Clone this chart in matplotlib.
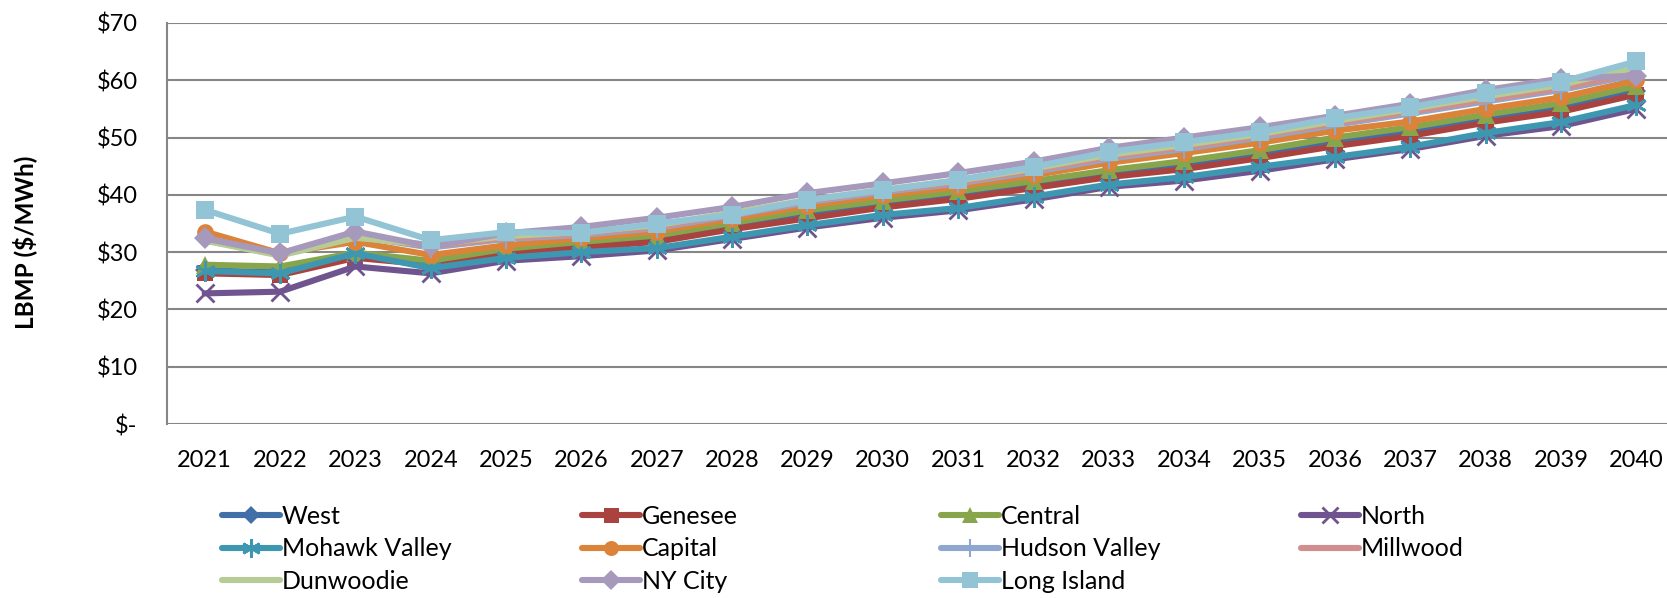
import matplotlib
matplotlib.use("Agg")
import matplotlib.pyplot as plt

years = [str(y) for y in range(2021, 2041)]

west = [26.8, 26.5, 29.5, 28.2, 30.0, 31.3, 32.3, 34.5, 36.5, 38.3, 39.8, 41.8, 43.7, 45.2, 47.0, 49.2, 51.0, 53.3, 55.2, 58.2]
genesee = [26.3, 26.0, 29.0, 27.8, 29.7, 30.8, 31.8, 34.0, 35.9, 37.8, 39.3, 41.2, 43.1, 44.5, 46.4, 48.5, 50.3, 52.6, 54.5, 57.5]
central = [27.8, 27.5, 29.9, 28.5, 30.6, 31.8, 32.9, 35.1, 37.3, 39.0, 40.6, 42.4, 44.3, 45.9, 47.8, 50.0, 51.8, 54.0, 56.0, 59.0]
north = [22.8, 23.1, 27.5, 26.3, 28.5, 29.3, 30.3, 32.3, 34.3, 36.0, 37.3, 39.2, 41.4, 42.5, 44.2, 46.2, 48.0, 50.3, 52.0, 55.0]
mohawk_valley = [26.7, 26.3, 29.8, 27.2, 29.0, 30.0, 30.7, 32.7, 34.7, 36.5, 37.7, 39.7, 41.8, 43.1, 44.9, 46.6, 48.4, 50.8, 52.7, 55.7]
capital = [33.6, 29.8, 31.8, 29.5, 31.2, 32.4, 33.6, 35.8, 38.1, 39.9, 41.4, 43.4, 45.6, 47.3, 49.1, 51.2, 52.8, 55.0, 57.0, 60.0]
hudson_valley = [32.5, 29.6, 32.8, 30.8, 32.3, 33.0, 34.2, 36.4, 38.7, 40.5, 42.0, 44.0, 46.3, 48.0, 50.0, 52.2, 54.2, 56.3, 58.3, 61.0]
millwood = [32.5, 29.6, 32.8, 31.0, 32.5, 33.2, 34.4, 36.6, 38.9, 40.7, 42.2, 44.3, 46.6, 48.3, 50.3, 52.5, 54.5, 56.6, 58.6, 61.3]
dunwoodie = [32.0, 29.4, 32.5, 31.3, 32.8, 33.5, 34.7, 36.9, 39.1, 40.9, 42.5, 44.6, 47.0, 48.7, 50.6, 52.9, 55.0, 57.2, 59.2, 62.3]
ny_city = [32.4, 29.8, 33.6, 31.0, 33.3, 34.4, 36.0, 37.9, 40.3, 42.0, 43.8, 45.8, 48.2, 50.0, 51.8, 53.8, 55.9, 58.3, 60.3, 60.8]
long_island = [37.4, 33.2, 36.2, 32.1, 33.5, 33.3, 35.0, 36.5, 39.1, 40.8, 42.6, 44.9, 47.5, 49.2, 51.0, 53.4, 55.3, 57.7, 59.7, 63.3]

series_names = ["West", "Genesee", "Central", "North", "Mohawk Valley", "Capital",
                "Hudson Valley", "Millwood", "Dunwoodie", "NY City", "Long Island"]
series_values = [west, genesee, central, north, mohawk_valley, capital,
                 hudson_valley, millwood, dunwoodie, ny_city, long_island]

y_ticks = [0, 10, 20, 30, 40, 50, 60, 70]
y_tick_labels = ["$-", "$10", "$20", "$30", "$40", "$50", "$60", "$70"]

styles = [
    dict(color="#4170A8", marker="D", ms=10, mew=0),
    dict(color="#AA4340", marker="s", ms=12, mew=0),
    dict(color="#88A54C", marker="^", ms=13, mew=0),
    dict(color="#6F548F", marker="x", ms=13, mew=2),
    dict(color="#3E97B0", marker=(6, 2, 0), ms=15, mew=2),
    dict(color="#DC833A", marker="o", ms=12, mew=0),
    dict(color="#8FA7CE", marker="|", ms=14, mew=1.5),
    dict(color="#D08F8E", marker=None, ms=0, mew=0),
    dict(color="#B7CC94", marker=None, ms=0, mew=0),
    dict(color="#A699BC", marker="D", ms=11, mew=0),
    dict(color="#92C4D5", marker="s", ms=13, mew=0),
]

plt.rcParams["font.family"] = ["Lato", "DejaVu Sans"]

W, H = 1667, 598
fig = plt.figure(figsize=(W / 100, H / 100), dpi=100)
left, right, top, bottom = 167, 1674, 23, 424
ax = fig.add_axes([left / W, 1 - bottom / H, (right - left) / W, (bottom - top) / H])

x = list(range(len(years)))
handles = []
for name, vals, st in zip(series_names, series_values, styles):
    h, = ax.plot(x, vals, color=st["color"], lw=4.4, marker=st["marker"],
                 ms=st["ms"], mew=st["mew"], mec=st["color"], mfc=st["color"],
                 solid_capstyle="round", solid_joinstyle="round", label=name)
    handles.append(h)

ax.set_xlim(-0.5, len(years) - 0.5)
ax.set_ylim(0, 70)
ax.set_yticks(y_ticks)
ax.set_yticklabels(y_tick_labels)
ax.set_xticks(x)
ax.set_xticklabels(years)
ax.tick_params(axis="both", length=0, labelsize=17, colors="black")
ax.tick_params(axis="y", pad=21)
ax.tick_params(axis="x", pad=18.5)
for lbl in ax.get_yticklabels():
    lbl.set_horizontalalignment("right")
ax.grid(axis="y", color="#868686", lw=1.5)
ax.set_axisbelow(True)
for s in ["top", "right", "bottom"]:
    ax.spines[s].set_visible(False)
ax.spines["left"].set_color("#868686")
ax.spines["left"].set_linewidth(1.5)

fig.text(25 / W, 1 - 242 / H, "LBMP ($/MWh)", rotation=90, fontsize=17.5,
         fontweight="bold", ha="center", va="center")

# legend: 4 columns, row-major order
col_x = [222, 582, 941, 1301]
for c in range(4):
    idx = [i for i in range(len(series_names)) if i % 4 == c]
    fig.legend([handles[i] for i in idx], [series_names[i] for i in idx],
               loc="upper left", bbox_to_anchor=(col_x[c] / W, 1 - 505 / H),
               frameon=False, fontsize=18, handlelength=2.3, handletextpad=0.08,
               borderpad=0, borderaxespad=0, labelspacing=0.38, markerscale=0.9)

fig.savefig("out.png", dpi=100, facecolor="white")
